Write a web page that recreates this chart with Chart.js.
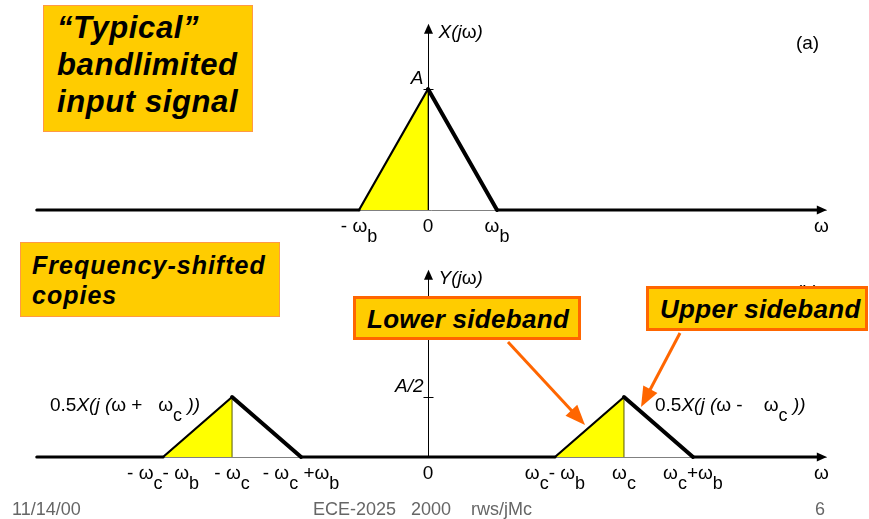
<!DOCTYPE html>
<html>
<head>
<meta charset="utf-8">
<script src="https://cdn.jsdelivr.net/npm/chart.js@4.4.0/dist/chart.umd.min.js"></script>
<style>
  body { margin: 0; width: 869px; height: 519px; background: #fff; position: relative; overflow: hidden;
         font-family: "Liberation Sans", Arial, sans-serif; }
  canvas { position: absolute; left: 0; }
  #top-panel { top: 0; }
  #bottom-panel { top: 245px; }
  .note { position: absolute; z-index: 2; box-sizing: border-box; background: #FFCC00; color: #000;
          font-style: italic; font-weight: bold; white-space: nowrap; }
  #note-typical { left: 43px; top: 5px; width: 210px; height: 127px; border: 1px solid #FF9944;
                  font-size: 31px; line-height: 37px; padding: 3px 0 0 13px; letter-spacing: 0.6px; }
  #note-shifted { left: 20px; top: 242px; width: 260px; height: 75px; border: 1px solid #FF9944;
                  font-size: 25px; line-height: 30px; padding: 7px 0 0 11px; letter-spacing: 1px; }
  #note-lower { left: 353px; top: 296px; width: 228px; height: 44px; border: 3px solid #FF6600;
                font-size: 26px; line-height: 38px; padding: 1px 0 0 11px; letter-spacing: 0.3px; }
  #note-upper { left: 646px; top: 286px; width: 222px; height: 45px; border: 3px solid #FF6600;
                font-size: 26px; line-height: 38px; padding: 1px 0 0 11px; letter-spacing: 0.3px; }
  .foot { position: absolute; top: 499px; font-size: 18px; color: #666; white-space: pre; }
</style>
</head>
<body>
<canvas id="top-panel" width="869" height="245"></canvas>
<canvas id="bottom-panel" width="869" height="274"></canvas>

<div class="note" id="note-typical">“Typical”<br>bandlimited<br>input signal</div>
<div class="note" id="note-shifted">Frequency-shifted<br>copies</div>
<div class="note" id="note-lower">Lower sideband</div>
<div class="note" id="note-upper">Upper sideband</div>

<div class="foot" style="left:12px">11/14/00</div>
<div class="foot" style="left:313px">ECE-2025   2000    rws/jMc</div>
<div class="foot" style="left:815px">6</div>

<script>
// frequencies in units of the bandwidth omega_b, magnitudes in units of A
const omegaB = 1;
const omegaC = 2.84;
const peakA = 1;
const omegaStart = -5.67;
const omegaEnd = 5.78;

// one triangular spectrum: offsets from its centre and heights
const shapeOmega = [-omegaB, 0, omegaB];
const inputMag = [0, peakA, 0];
const copyMag = [0, peakA / 2, 0];
const inputCentres = [0];
const copyCentres = [-omegaC, omegaC];

// tick labels ("_" = next char is subscript, "|" toggles italic)
const topTicks = [-omegaB, 0, omegaB];
const topTickLabels = ['- ω_b', '0', 'ω_b'];
const bottomTicks = [-omegaC - omegaB, -omegaC, -omegaC + omegaB, 0, omegaC - omegaB, omegaC, omegaC + omegaB];
const bottomTickLabels = ['- ω_c- ω_b', '- ω_c', '- ω_c +ω_b', '0', 'ω_c- ω_b', 'ω_c', 'ω_c+ω_b'];
const copyLabels = ['0.5|X(j (|ω +   ω_c| ))|', '0.5|X(j (|ω -    ω_c| ))|'];

const FONT = '"Liberation Sans", Arial, sans-serif';
const MAIN_SIZE = 19;
const SUB_SIZE = 18;

function richParts(str) {
  const parts = [];
  let italic = false;
  for (let i = 0; i < str.length; i++) {
    const ch = str[i];
    if (ch === '|') { italic = !italic; continue; }
    if (ch === '_') { parts.push({ t: str[++i], sub: true, italic }); continue; }
    const last = parts[parts.length - 1];
    if (last && !last.sub && last.italic === italic) last.t += ch;
    else parts.push({ t: ch, sub: false, italic });
  }
  return parts;
}

function drawRich(ctx, str, x, y, align) {
  const parts = richParts(str);
  const fontFor = p => (p.italic ? 'italic ' : '') + (p.sub ? SUB_SIZE : MAIN_SIZE) + 'px ' + FONT;
  let w = 0;
  parts.forEach(p => { ctx.font = fontFor(p); p.w = ctx.measureText(p.t).width; w += p.w; });
  let cx = align === 'center' ? x - w / 2 : align === 'right' ? x - w : x;
  ctx.textAlign = 'left';
  ctx.textBaseline = 'alphabetic';
  parts.forEach(p => {
    ctx.font = fontFor(p);
    ctx.fillText(p.t, cx, y + (p.sub ? 10 : 0));
    cx += p.w;
  });
}

function arrowHead(ctx, fx, fy, tx, ty, len, half) {
  const a = Math.atan2(ty - fy, tx - fx);
  ctx.beginPath();
  ctx.moveTo(tx, ty);
  ctx.lineTo(tx - len * Math.cos(a) + half * Math.sin(a), ty - len * Math.sin(a) - half * Math.cos(a));
  ctx.lineTo(tx - len * Math.cos(a) - half * Math.sin(a), ty - len * Math.sin(a) + half * Math.cos(a));
  ctx.closePath();
  ctx.fill();
}

// draws the axes, labels and callout arrows of one panel
const decorPlugin = {
  id: 'decor',
  beforeDatasetsDraw(chart, args, opts) {
    const { ctx, scales: { x, y } } = chart;
    const y0 = Math.round(y.getPixelForValue(0)) + 0.5;
    ctx.save();
    ctx.strokeStyle = '#808080';
    ctx.lineWidth = 1;
    ctx.beginPath();
    ctx.moveTo(x.getPixelForValue(omegaStart), y0);
    ctx.lineTo(x.getPixelForValue(omegaEnd), y0);
    ctx.stroke();
    ctx.restore();
  },
  afterDatasetsDraw(chart, args, opts) {
    const { ctx, scales: { x, y } } = chart;
    const x0 = Math.round(x.getPixelForValue(0)) + 0.5;
    const y0 = y.getPixelForValue(0);
    const yTip = y.getPixelForValue(opts.axisTop);
    const xTip = x.getPixelForValue(omegaEnd);
    ctx.save();
    ctx.fillStyle = '#000';
    ctx.strokeStyle = '#000';
    ctx.lineWidth = 1;

    // vertical axis with arrow
    ctx.beginPath();
    ctx.moveTo(x0, y0);
    ctx.lineTo(x0, yTip + 6);
    ctx.stroke();
    arrowHead(ctx, x0, y0, x0, yTip, 10, 4.5);
    // horizontal arrow head
    arrowHead(ctx, 0, y0, xTip, y0, 10, 4.5);

    // magnitude tick and label
    const yv = y.getPixelForValue(opts.magTick);
    ctx.beginPath();
    ctx.moveTo(x0 - 5, Math.round(yv) + 0.5);
    ctx.lineTo(x0 + 5, Math.round(yv) + 0.5);
    ctx.stroke();
    ctx.fillStyle = '#000';
    drawRich(ctx, opts.magLabel, x0 - 5, yv - 5, 'right');

    // axis name and omega
    drawRich(ctx, opts.axisName, x0 + 10, yTip + 14, 'left');
    drawRich(ctx, 'ω', x.getPixelForValue(5.7), y0 + 22, 'center');

    // frequency tick labels
    opts.ticks.forEach((v, i) => drawRich(ctx, opts.tickLabels[i], x.getPixelForValue(v), y0 + 22, 'center'));

    // panel tag
    ctx.font = MAIN_SIZE + 'px ' + FONT;
    ctx.textAlign = 'center';
    ctx.textBaseline = 'middle';
    ctx.fillText(opts.tag, x.getPixelForValue(5.5), y.getPixelForValue(1.37));

    // labels beside the shifted copies
    (opts.copyLabels || []).forEach((lab, i) => {
      const c = opts.copyAt[i];
      const px = x.getPixelForValue(c) + (c < 0 ? -32 : 31);
      drawRich(ctx, lab, px, y.getPixelForValue(copyMag[1]) + 14, c < 0 ? 'right' : 'left');
    });

    // orange callout arrows, from the note boxes to the sidebands
    ctx.strokeStyle = '#FF6600';
    ctx.fillStyle = '#FF6600';
    ctx.lineWidth = 3;
    (opts.arrows || []).forEach(a => {
      const tx = x.getPixelForValue(a.tip[0]);
      const ty = y.getPixelForValue(a.tip[1]);
      const ang = Math.atan2(ty - a.from[1], tx - a.from[0]);
      ctx.beginPath();
      ctx.moveTo(a.from[0], a.from[1]);
      ctx.lineTo(tx - 14 * Math.cos(ang), ty - 14 * Math.sin(ang));
      ctx.stroke();
      arrowHead(ctx, a.from[0], a.from[1], tx, ty, 20, 8);
    });
    ctx.restore();
  }
};

function spectrumDatasets(centres, mag) {
  const outline = [{ x: omegaStart, y: 0 }];
  const sets = [];
  centres.forEach(c => {
    shapeOmega.forEach((w, i) => outline.push({ x: c + w, y: mag[i] }));
    sets.push({
      data: [{ x: c + shapeOmega[0], y: mag[0] }, { x: c, y: mag[1] }],
      showLine: true, fill: 'origin', backgroundColor: '#FFFF00',
      borderWidth: 0, pointRadius: 0, order: 3
    });
    sets.push({
      data: [{ x: c, y: 0 }, { x: c, y: mag[1] }],
      showLine: true, borderColor: '#5a5a00', borderWidth: 1, pointRadius: 0, order: 2
    });
  });
  outline.push({ x: omegaEnd - 0.1, y: 0 });
  sets.push({
    data: outline, showLine: true, borderColor: '#000', pointRadius: 0, order: 1,
    borderCapStyle: 'round', borderJoinStyle: 'miter',
    segment: {
      borderWidth: s => s.p1.parsed.y > s.p0.parsed.y ? 2.2 : (s.p1.parsed.y < s.p0.parsed.y ? 4 : 3)
    }
  });
  return sets;
}

function makePanel(id, datasets, yMin, yMax, decor) {
  return new Chart(document.getElementById(id), {
    type: 'scatter',
    data: { datasets },
    options: {
      responsive: false,
      animation: false,
      devicePixelRatio: 1,
      events: [],
      layout: { padding: 0 },
      plugins: { legend: { display: false }, tooltip: { enabled: false }, decor },
      scales: {
        x: { type: 'linear', min: -6.203, max: 6.391, display: false },
        y: { type: 'linear', min: yMin, max: yMax, display: false }
      }
    },
    plugins: [decorPlugin]
  });
}

makePanel('top-panel', spectrumDatasets(inputCentres, inputMag), -0.289, 1.7355, {
  axisTop: 1.54, magTick: peakA, magLabel: '|A|', axisName: '|X(j|ω|)|',
  ticks: topTicks, tickLabels: topTickLabels, tag: '(a)'
});

makePanel('bottom-panel', spectrumDatasets(copyCentres, copyMag), -0.5167, 1.7667, {
  axisTop: 1.56, magTick: peakA / 2, magLabel: '|A/2|', axisName: '|Y(j|ω|)|',
  ticks: bottomTicks, tickLabels: bottomTickLabels, tag: '(b)',
  copyLabels, copyAt: copyCentres,
  arrows: [
    { from: [508, 97], tip: [omegaC - 0.565 * omegaB, 0.267] },
    { from: [680, 88], tip: [omegaC + 0.247 * omegaB, 0.417] }
  ]
});
</script>
</body>
</html>
